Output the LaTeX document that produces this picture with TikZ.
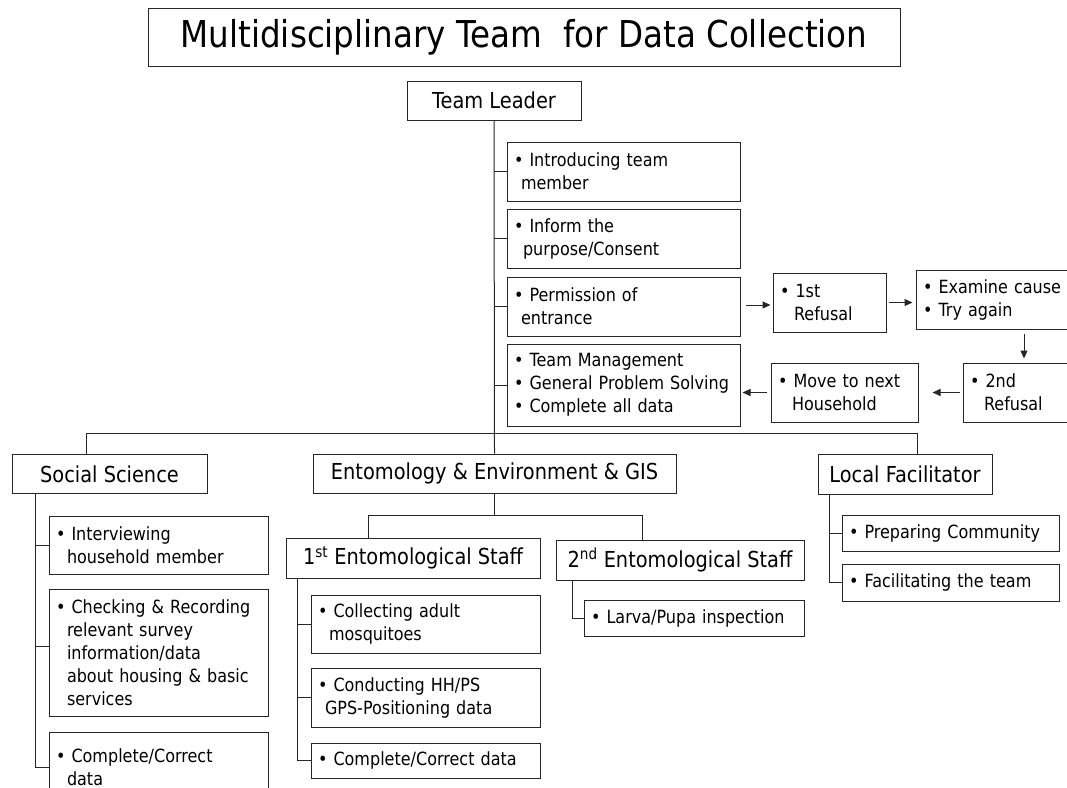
\documentclass[tikz,border=0pt]{standalone}
\usepackage{fontspec}
\setmainfont[FakeStretch=0.88]{DejaVu Sans}
\usetikzlibrary{arrows.meta,calc}
\newcommand\bodyfnt{\fontsize{18.2}{23}\selectfont}
\newcommand\headfnt{\fontsize{22}{26}\selectfont}
\newcommand\titlefnt{\fontsize{37}{44}\selectfont}
\newcommand\bl{\textbullet\ }
\begin{document}
\begin{tikzpicture}[x=1pt,y=-1pt,
  ln/.style={line width=1pt, draw=black!85},
  bx/.style={draw=black!85, line width=1pt, inner xsep=7pt, inner ysep=0pt, align=left, font=\bodyfnt},
  hd/.style={draw=black!85, line width=1pt, inner sep=0pt, align=center, font=\headfnt},
  arr/.style={line width=1pt, draw=black!85, -{Triangle[length=8pt,width=7pt]}}]
\useasboundingbox (0,0) rectangle (1067,787);
\fill[white] (0,0) rectangle (1067,787);
% title
\node[hd, font=\titlefnt, minimum width=752pt, minimum height=58pt] (title) at (524,37) {Multidisciplinary Team~ for Data Collection};
\node[hd, minimum width=174pt, minimum height=39pt] (TL) at (494,100.5) {Team Leader};
% team leader tasks
\node[bx, minimum width=233pt, minimum height=59pt, text width=219pt] (B1) at (623.5,171.5) {\bl Introducing team\\\hspace*{7pt}member};
\node[bx, minimum width=233pt, minimum height=59pt, text width=219pt] (B2) at (623.5,238.5) {\bl Inform the\\\hspace*{9pt}purpose/Consent};
\node[bx, minimum width=233pt, minimum height=59pt, text width=219pt] (B3) at (623.5,306.5) {\bl Permission of\\\hspace*{7pt}entrance};
\node[bx, minimum width=233pt, minimum height=82pt, text width=219pt] (B4) at (623.5,385) {\bl Team Management\\\bl General Problem Solving\\\bl Complete all data};
% refusal chain
\node[bx, minimum width=113pt, minimum height=59pt, text width=99pt] (R1) at (829.5,302.5) {\bl 1st\\\hspace*{14pt}Refusal};
\node[bx, minimum width=159pt, minimum height=59pt, text width=145pt] (EX) at (995.5,299.5) {\bl Examine cause\\\bl Try again};
\node[bx, minimum width=112pt, minimum height=59pt, text width=98pt] (R2) at (1019,392.5) {\bl 2nd\\\hspace*{14pt}Refusal};
\node[bx, minimum width=147pt, minimum height=59pt, text width=133pt] (MV) at (844.5,392.5) {\bl Move to next\\\hspace*{14pt}Household};
% second level heads
\node[hd, minimum width=195pt, minimum height=39pt] (SS) at (109.5,474) {Social Science};
\node[hd, minimum width=363pt, minimum height=39pt] (ENT) at (494.5,473.5) {Entomology \& Environment \& GIS};
\node[hd, minimum width=174pt, minimum height=40pt] (LF) at (905,474) {Local Facilitator};
% social science
\node[bx, minimum width=219pt, minimum height=58pt, text width=205pt] (S1) at (158.5,545) {\bl Interviewing\\\hspace*{11pt}household member};
\node[bx, minimum width=219pt, minimum height=127pt, text width=205pt] (S2) at (158.5,652.5) {\bl Checking \& Recording\\\hspace*{11pt}relevant survey\\\hspace*{11pt}information/data\\\hspace*{11pt}about housing \& basic\\\hspace*{11pt}services};
\node[bx, minimum width=219pt, minimum height=70pt, text width=205pt] (S3) at (158.5,767) {\bl Complete/Correct\\\hspace*{11pt}data\\[6pt]};
% entomology
\node[hd, minimum width=254pt, minimum height=40pt] (E1) at (413,558) {1\textsuperscript{st} Entomological Staff};
\node[hd, minimum width=248pt, minimum height=40pt] (E2) at (680,560) {2\textsuperscript{nd} Entomological Staff};
\node[bx, minimum width=229pt, minimum height=58pt, text width=215pt] (C1) at (425.5,624) {\bl Collecting adult\\\hspace*{11pt}mosquitoes};
\node[bx, minimum width=229pt, minimum height=59pt, text width=215pt] (C2) at (425.5,697.5) {\bl Conducting HH/PS\\\hspace*{7pt}GPS-Positioning data};
\node[bx, minimum width=229pt, minimum height=35pt, text width=215pt] (C3) at (425.5,760.5) {\bl Complete/Correct data};
\node[bx, minimum width=220pt, minimum height=36pt, text width=206pt] (L1) at (694,618) {\bl Larva/Pupa inspection};
% local facilitator
\node[bx, minimum width=217pt, minimum height=36pt, text width=203pt] (P1) at (950.5,533) {\bl Preparing Community};
\node[bx, minimum width=217pt, minimum height=37pt, text width=203pt] (P2) at (950.5,582.5) {\bl Facilitating the team};
% coordinates
\coordinate (busL) at (86,433);
\coordinate (busR) at (917,433);
\coordinate (sb1) at (368,515);
\coordinate (sb2) at (642,515);
\coordinate (sv) at (35,493);
\coordinate (ev) at (297,578);
\coordinate (ev2) at (572,580);
\coordinate (lv) at (829,494);
\coordinate (dx) at (1024,0);
% connectors
\draw[ln] (TL.south) -- (ENT.north);
\draw[ln] (TL.south |- B1.west) -- (B1.west);
\draw[ln] (TL.south |- B2.west) -- (B2.west);
\draw[ln] (TL.south |- B3.west) -- (B3.west);
\draw[ln] (TL.south |- B4.west) -- (B4.west);
\draw[ln] (SS.north -| busL) -- (busL) -- (busR) -- (LF.north -| busR);
\draw[ln] (ENT.south) -- (ENT.south |- sb1);
\draw[ln] (E1.north -| sb1) -- (sb1) -- (sb2) -- (E2.north -| sb2);
\draw[ln] (sv) |- (S1.west);
\draw[ln] (sv) |- ($(S2.west)+(0,-6.5)$);
\draw[ln] (sv) |- (S3.west);
\draw[ln] (ev) |- (C1.west);
\draw[ln] (ev) |- (C2.west);
\draw[ln] (ev) |- (C3.west);
\draw[ln] (ev2) |- (L1.west);
\draw[ln] (lv) |- (P1.west);
\draw[ln] (lv) |- (P2.west);
% arrows
\draw[arr] ($(B3.east)+(5,-1.5)$) -- ($(R1.west |- B3.east)+(-2,-1.5)$);
\draw[arr] ($(R1.east)+(2,0)$) -- ($(R1.east -| EX.west)+(-3,0)$);
\draw[arr] ($(EX.south -| dx)+(0,4)$) -- ($(R2.north -| dx)+(0,-4)$);
\draw[arr] ($(R2.west)+(-3,0)$) -- ($(MV.east)+(14,0)$);
\draw[arr] ($(MV.west)+(-4,0)$) -- ($(MV.west -| B4.east)+(2,0)$);
\end{tikzpicture}
\end{document}
